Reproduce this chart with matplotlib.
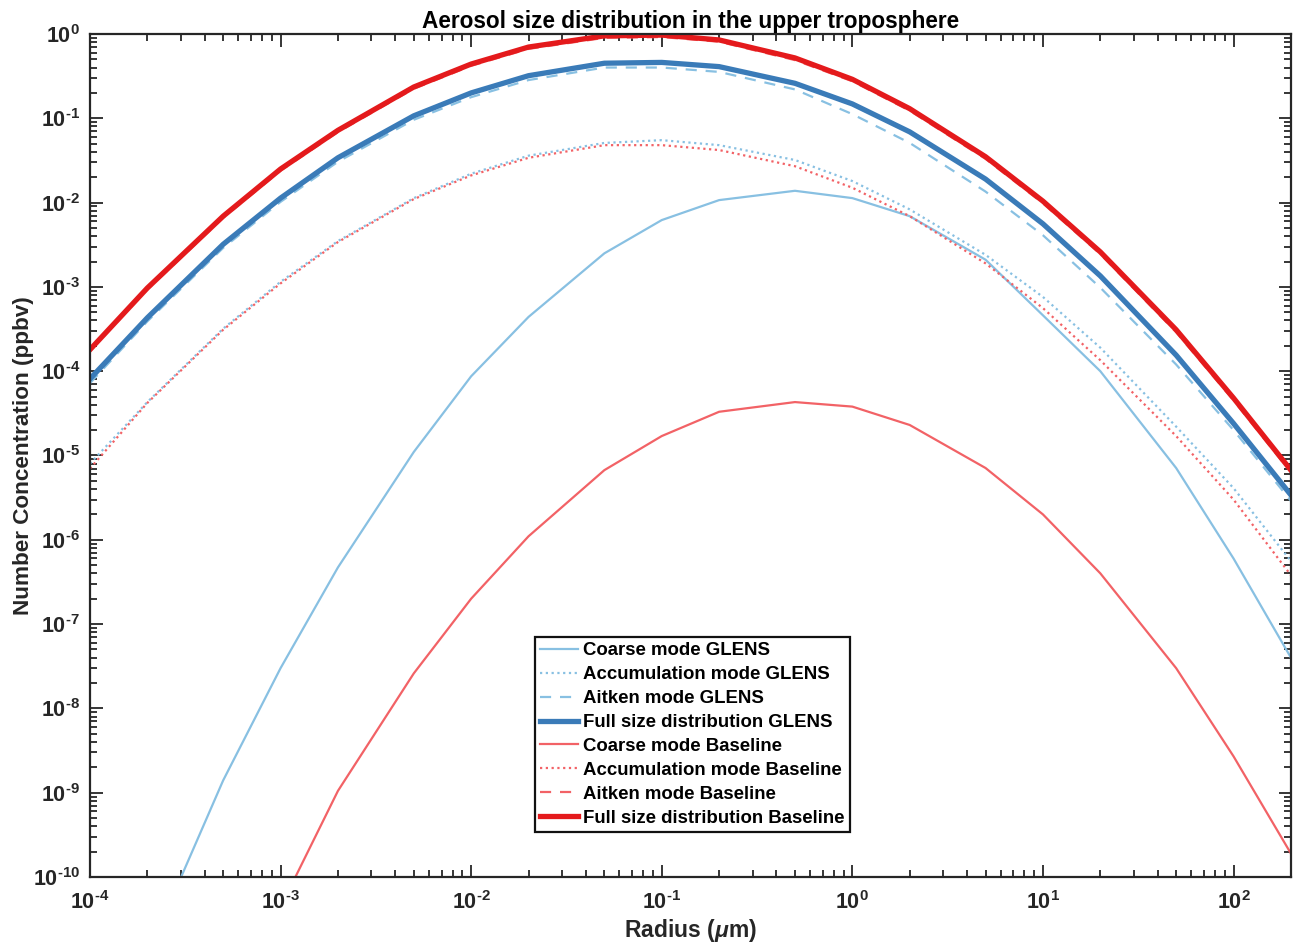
import matplotlib
matplotlib.use("Agg")
import matplotlib.pyplot as plt
import numpy as np
from matplotlib.ticker import FixedLocator, FuncFormatter, NullFormatter

plt.rcParams['font.family'] = ['Liberation Sans', 'DejaVu Sans']
plt.rcParams['font.weight'] = 'bold'
plt.rcParams['mathtext.fontset'] = 'custom'
plt.rcParams['mathtext.rm'] = 'Liberation Sans:bold'
plt.rcParams['mathtext.bf'] = 'Liberation Sans:bold'
plt.rcParams['mathtext.it'] = 'Liberation Sans:bold:italic'
plt.rcParams['mathtext.default'] = 'bf'
plt.rcParams['axes.unicode_minus'] = False

radius = [1e-4, 2e-4, 5e-4, 1e-3, 2e-3, 5e-3, 1e-2, 2e-2, 5e-2, 0.1,
          0.2, 0.5, 1, 2, 5, 10, 20, 50, 100, 200]

coarse_glens = [3e-13, 1.2e-11, 1.4e-9, 3e-8, 4.7e-7, 1.1e-5, 8.7e-5, 4.4e-4, 2.5e-3, 6.2e-3,
                0.0107, 0.0138, 0.0113, 6.9e-3, 2.1e-3, 4.6e-4, 1.0e-4, 7.1e-6, 6e-7, 4e-8]
accum_glens = [8e-6, 4.3e-5, 3.2e-4, 1.15e-3, 3.5e-3, 0.0113, 0.022, 0.036, 0.051, 0.055,
               0.048, 0.032, 0.018, 8.3e-3, 2.4e-3, 7.6e-4, 1.9e-4, 2.2e-5, 4.1e-6, 5.6e-7]
aitken_glens = [7.2e-5, 3.9e-4, 2.9e-3, 0.0102, 0.0305, 0.096, 0.178, 0.284, 0.40, 0.40,
                0.355, 0.22, 0.112, 0.051, 0.0135, 4.1e-3, 9.8e-4, 1.2e-4, 2.0e-5, 2.9e-6]
full_glens = [8.1e-5, 4.3e-4, 3.2e-3, 0.0113, 0.034, 0.107, 0.2, 0.32, 0.45, 0.46,
              0.41, 0.26, 0.148, 0.069, 0.019, 5.6e-3, 1.35e-3, 1.55e-4, 2.4e-5, 3.4e-6]

coarse_base = [1e-14, 1e-12, 1e-11, 4.4e-11, 1.05e-9, 2.6e-8, 2e-7, 1.1e-6, 6.7e-6, 1.7e-5,
               3.3e-5, 4.3e-5, 3.8e-5, 2.3e-5, 7.1e-6, 2e-6, 4e-7, 3e-8, 2.7e-9, 1.9e-10]
accum_base = [7e-6, 4.2e-5, 3.1e-4, 1.1e-3, 3.4e-3, 0.011, 0.021, 0.034, 0.048, 0.048,
              0.042, 0.027, 0.015, 6.9e-3, 1.9e-3, 5.6e-4, 1.35e-4, 1.7e-5, 3e-6, 3.8e-7]
aitken_base = [1.73e-4, 9.3e-4, 6.6e-3, 2.39e-2, 0.0686, 0.224, 0.419, 0.666, 0.90, 0.92,
               0.81, 0.49, 0.275, 0.123, 0.033, 9.8e-3, 2.45e-3, 2.9e-4, 4.5e-5, 6.3e-6]
full_base = [1.8e-4, 9.7e-4, 6.9e-3, 2.5e-2, 0.072, 0.235, 0.44, 0.7, 0.95, 0.97,
             0.85, 0.52, 0.29, 0.13, 0.035, 0.0104, 2.6e-3, 3.1e-4, 4.8e-5, 6.7e-6]

x_exponents = [-4, -3, -2, -1, 0, 1, 2]
y_exponents = [-10, -9, -8, -7, -6, -5, -4, -3, -2, -1, 0]

light_blue = '#88c0e2'
dark_blue = '#3a7bb8'
light_red = '#f26266'
dark_red = '#e41a1c'

fig = plt.figure(figsize=(13, 9.44), dpi=100)
ax = fig.add_axes([0.0692, 0.071, 0.9238, 0.893])

dot = (0, (1, 1.6))
dash = (0, (5, 4))
ax.plot(radius, coarse_glens, color=light_blue, lw=1.6, label='Coarse mode GLENS')
ax.plot(radius, accum_glens, color=light_blue, lw=1.6, ls=dot, label='Accumulation mode GLENS')
ax.plot(radius, aitken_glens, color=light_blue, lw=1.6, ls=dash, label='Aitken mode GLENS')
ax.plot(radius, full_glens, color=dark_blue, lw=3.8, label='Full size distribution GLENS')
ax.plot(radius, coarse_base, color=light_red, lw=1.6, label='Coarse mode Baseline')
ax.plot(radius, accum_base, color=light_red, lw=1.6, ls=dot, label='Accumulation mode Baseline')
ax.plot(radius, aitken_base, color=light_red, lw=1.6, ls=dash, label='Aitken mode Baseline')
ax.plot(radius, full_base, color=dark_red, lw=3.8, label='Full size distribution Baseline')

ax.set_xscale('log')
ax.set_yscale('log')
xmin, xmax = 1e-4, 2e2
ymin, ymax = 1e-10, 1e0
ax.set_xlim(xmin, xmax)
ax.set_ylim(ymin, ymax)


def minor_ticks(exps, lo, hi):
    vals = []
    for e in list(exps) + [exps[-1] + 1]:
        for m in range(2, 10):
            v = m * 10.0 ** (e - 1)
            if lo < v < hi:
                vals.append(v)
    return vals


def fmt(v, pos):
    e = int(round(np.log10(v)))
    if e < 0:
        return r'$\mathbf{10^{\text{-}%d}}$' % (-e)
    return r'$\mathbf{10^{%d}}$' % e


ax.xaxis.set_major_locator(FixedLocator([10.0 ** e for e in x_exponents]))
ax.xaxis.set_minor_locator(FixedLocator(minor_ticks(x_exponents, xmin, xmax)))
ax.yaxis.set_major_locator(FixedLocator([10.0 ** e for e in y_exponents]))
ax.yaxis.set_minor_locator(FixedLocator(minor_ticks(y_exponents, ymin, ymax)))
ax.xaxis.set_major_formatter(FuncFormatter(fmt))
ax.yaxis.set_major_formatter(FuncFormatter(fmt))
ax.xaxis.set_minor_formatter(NullFormatter())
ax.yaxis.set_minor_formatter(NullFormatter())

edge = '#262626'
for s in ax.spines.values():
    s.set_color(edge)
    s.set_linewidth(1.6)
ax.tick_params(which='both', direction='in', top=True, right=True, color=edge, width=1.3)
ax.tick_params(which='major', length=9, labelsize=15.5, labelcolor=edge)
ax.tick_params(axis='x', which='major', pad=10)
ax.tick_params(axis='y', which='major', pad=7)
ax.tick_params(which='minor', length=5)

ax.set_title('Aerosol size distribution in the upper troposphere', fontsize=16.3,
             fontweight='bold', pad=4)
ax.set_xlabel(r'Radius ($\mathit{\mu}$m)', fontsize=16.5, fontweight='bold', color=edge)
ax.set_ylabel('Number Concentration (ppbv)', fontsize=16.2, fontweight='bold', color=edge)
ax.xaxis.set_label_coords(0.5, -0.048)
ax.yaxis.set_label_coords(-0.0466, 0.5)

leg = ax.legend(loc='lower left', bbox_to_anchor=(0.3705, 0.053), fontsize=13.4,
                frameon=True, fancybox=False, edgecolor='#111111', framealpha=1,
                handlelength=2.0, handletextpad=0.3, labelspacing=0.37,
                borderpad=0.3, borderaxespad=0)
leg.get_frame().set_linewidth(1.6)

fig.savefig('out.png', dpi=100)
